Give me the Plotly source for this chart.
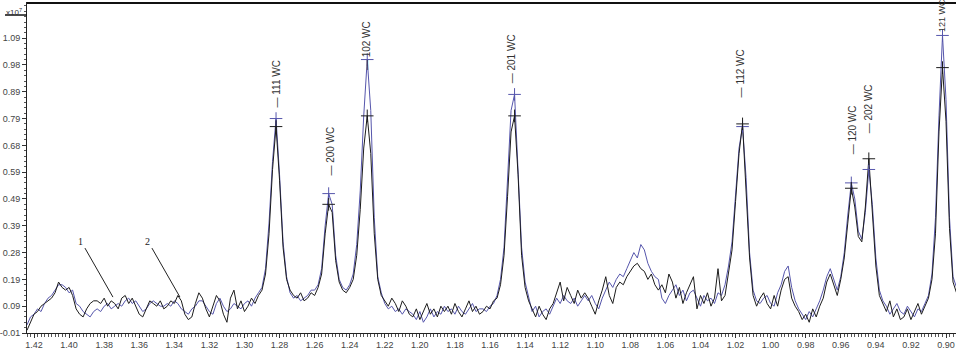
import numpy as np
import plotly.graph_objects as go

# d-spacing sampling grid (Angstrom): 1.424 -> 0.894 in 0.002 steps
d_start = 1.424
d_step = 0.002

# Pattern 1 (black), intensities x10^7
pattern_1 = [
    0.00, 0.03, 0.06, 0.07, 0.09, 0.10, 0.11, 0.12, 0.14, 0.18,
    0.16, 0.15, 0.16, 0.13, 0.08, 0.06, 0.05, 0.08, 0.10, 0.11,
    0.11, 0.10, 0.12, 0.09, 0.11, 0.10, 0.08, 0.12, 0.13, 0.10,
    0.12, 0.09, 0.06, 0.05, 0.08, 0.11, 0.10, 0.09, 0.11, 0.08,
    0.09, 0.11, 0.10, 0.13, 0.11, 0.06, 0.04, 0.05, 0.10, 0.14,
    0.12, 0.08, 0.05, 0.09, 0.13, 0.11, 0.06, 0.03, 0.12, 0.15,
    0.08, 0.11, 0.07, 0.09, 0.12, 0.10, 0.13, 0.15, 0.21, 0.36,
    0.60, 0.76, 0.56, 0.31, 0.19, 0.15, 0.13, 0.12, 0.14, 0.11,
    0.12, 0.14, 0.13, 0.16, 0.21, 0.36, 0.47, 0.44, 0.26, 0.18,
    0.15, 0.14, 0.16, 0.19, 0.28, 0.45, 0.68, 0.80, 0.66, 0.36,
    0.19, 0.13, 0.11, 0.09, 0.12, 0.10, 0.07, 0.11, 0.09, 0.06,
    0.05, 0.08, 0.04, 0.07, 0.10, 0.06, 0.08, 0.05, 0.09, 0.07,
    0.09, 0.06, 0.10, 0.07, 0.05, 0.08, 0.11, 0.07, 0.09, 0.06,
    0.07, 0.09, 0.08, 0.11, 0.12, 0.17, 0.28, 0.50, 0.74, 0.80,
    0.58, 0.28, 0.16, 0.11, 0.08, 0.05, 0.09, 0.06, 0.04, 0.08,
    0.10, 0.14, 0.18, 0.11, 0.16, 0.13, 0.10, 0.15, 0.12, 0.14,
    0.12, 0.09, 0.06, 0.11, 0.15, 0.20, 0.13, 0.10, 0.16, 0.18,
    0.17, 0.20, 0.22, 0.24, 0.25, 0.23, 0.22, 0.19, 0.21, 0.17,
    0.15, 0.17, 0.14, 0.21, 0.18, 0.12, 0.16, 0.10, 0.14, 0.17,
    0.20, 0.08, 0.13, 0.10, 0.14, 0.09, 0.12, 0.23, 0.11, 0.13,
    0.22, 0.30, 0.48, 0.66, 0.77, 0.54, 0.27, 0.13, 0.09, 0.12,
    0.14, 0.10, 0.08, 0.13, 0.09, 0.15, 0.19, 0.20, 0.12, 0.09,
    0.07, 0.04, 0.06, 0.03, 0.08, 0.05, 0.09, 0.12, 0.18, 0.21,
    0.17, 0.13, 0.19, 0.27, 0.40, 0.53, 0.46, 0.35, 0.33, 0.46,
    0.64, 0.44, 0.24, 0.13, 0.10, 0.07, 0.11, 0.05, 0.08, 0.04,
    0.05, 0.08, 0.04, 0.07, 0.10, 0.06, 0.09, 0.12, 0.19, 0.36,
    0.74, 0.98, 0.78, 0.38, 0.18, 0.14,
]

# Pattern 2 (blue), intensities x10^7
pattern_2 = [
    0.02, 0.05, 0.06, 0.08, 0.07, 0.10, 0.12, 0.13, 0.15, 0.17,
    0.17, 0.16, 0.14, 0.15, 0.10, 0.09, 0.07, 0.06, 0.05, 0.07,
    0.08, 0.07, 0.09, 0.10, 0.08, 0.09, 0.10, 0.09, 0.11, 0.12,
    0.10, 0.11, 0.09, 0.07, 0.08, 0.10, 0.11, 0.10, 0.09, 0.09,
    0.10, 0.09, 0.11, 0.10, 0.08, 0.07, 0.06, 0.08, 0.09, 0.11,
    0.11, 0.09, 0.07, 0.06, 0.10, 0.12, 0.09, 0.07, 0.08, 0.10,
    0.09, 0.08, 0.10, 0.11, 0.09, 0.12, 0.14, 0.16, 0.23, 0.40,
    0.63, 0.79, 0.58, 0.33, 0.20, 0.14, 0.12, 0.13, 0.11, 0.12,
    0.13, 0.15, 0.15, 0.17, 0.23, 0.39, 0.51, 0.47, 0.28, 0.19,
    0.16, 0.15, 0.17, 0.21, 0.32, 0.52, 0.80, 1.01, 0.82, 0.42,
    0.20, 0.14, 0.10, 0.08, 0.09, 0.07, 0.08, 0.06, 0.08, 0.07,
    0.06, 0.04, 0.07, 0.03, 0.05, 0.08, 0.05, 0.07, 0.06, 0.09,
    0.07, 0.08, 0.06, 0.09, 0.07, 0.06, 0.08, 0.10, 0.07, 0.08,
    0.08, 0.07, 0.09, 0.10, 0.13, 0.19, 0.31, 0.55, 0.82, 0.88,
    0.62, 0.31, 0.18, 0.12, 0.07, 0.09, 0.05, 0.07, 0.08, 0.06,
    0.09, 0.12, 0.10, 0.13, 0.11, 0.10, 0.12, 0.09, 0.11, 0.13,
    0.11, 0.13, 0.10, 0.08, 0.12, 0.15, 0.18, 0.16, 0.19, 0.21,
    0.20, 0.23, 0.26, 0.29, 0.27, 0.32, 0.30, 0.25, 0.22, 0.20,
    0.19, 0.12, 0.10, 0.13, 0.15, 0.17, 0.13, 0.15, 0.11, 0.14,
    0.15, 0.12, 0.09, 0.13, 0.11, 0.12, 0.10, 0.14, 0.13, 0.17,
    0.24, 0.33, 0.50, 0.68, 0.76, 0.57, 0.29, 0.15, 0.11, 0.10,
    0.12, 0.13, 0.10, 0.09, 0.14, 0.17, 0.22, 0.24, 0.16, 0.11,
    0.08, 0.06, 0.04, 0.07, 0.05, 0.08, 0.11, 0.15, 0.20, 0.23,
    0.19, 0.15, 0.20, 0.29, 0.43, 0.55, 0.49, 0.37, 0.34, 0.44,
    0.60, 0.47, 0.27, 0.15, 0.11, 0.09, 0.06, 0.08, 0.10, 0.07,
    0.06, 0.09, 0.07, 0.05, 0.08, 0.07, 0.10, 0.13, 0.21, 0.42,
    0.80, 1.10, 0.86, 0.42, 0.20, 0.16,
]

# Peak labels
peak_labels = ["111 WC", "200 WC", "102 WC", "201 WC", "112 WC", "120 WC", "202 WC", "121 WC"]
peak_d = [1.282, 1.252, 1.230, 1.146, 1.016, 0.954, 0.944, 0.902]
label_d = [1.282, 1.2512, 1.2303, 1.1476, 1.0171, 0.9536, 0.9445, 0.9026]
label_y = [0.822, 0.568, 0.964, 0.915, 0.860, 0.647, 0.729, 1.105]
label_dash = [True, True, True, True, True, True, True, False]
label_size = [10, 10, 10, 10, 10, 10, 10, 9]

# Axis ticks
y_tickvals = [-0.01, 0.09, 0.19, 0.29, 0.39, 0.49, 0.59, 0.69, 0.79, 0.89, 0.99, 1.09]
y_ticktext = ["-0.01", "0.09", "0.19", "0.28", "0.39", "0.49", "0.59", "0.68", "0.79", "0.89", "0.98", "1.09"]

# Curve number pointers: (label, d, intensity)
curve_tags = [("1", 1.375, 0.124), ("2", 1.3368, 0.124)]

n = len(pattern_1)
d = np.round(d_start - d_step * np.arange(n), 4)

BLACK = "#1c1c1c"
BLUE = "#5656ac"
SANS = "Liberation Sans, Arial, sans-serif"

fig = go.Figure()
fig.add_trace(go.Scatter(x=d, y=pattern_2, mode="lines",
                         line=dict(color=BLUE, width=1), name="2", showlegend=False))
fig.add_trace(go.Scatter(x=d, y=pattern_1, mode="lines",
                         line=dict(color=BLACK, width=1), name="1", showlegend=False))

idx = [int(round((d_start - p) / d_step)) for p in peak_d]
fig.add_trace(go.Scatter(x=[d[i] for i in idx], y=[pattern_2[i] for i in idx], mode="markers",
                         marker=dict(symbol="cross-thin", size=9, line=dict(color=BLUE, width=1)),
                         showlegend=False))
fig.add_trace(go.Scatter(x=[d[i] for i in idx], y=[pattern_1[i] for i in idx], mode="markers",
                         marker=dict(symbol="cross-thin", size=9, line=dict(color=BLACK, width=1)),
                         showlegend=False))

for lab, xd, yv, dash, fs in zip(peak_labels, label_d, label_y, label_dash, label_size):
    fig.add_annotation(x=xd, y=yv, text=("\u2014 " + lab) if dash else lab,
                       textangle=-90, showarrow=False,
                       xanchor="center", yanchor="bottom",
                       font=dict(family=SANS, size=fs, color="#333333"))

for lab, xd, yv in curve_tags:
    fig.add_annotation(x=xd, y=yv, text=lab, showarrow=True, arrowhead=0, arrowwidth=1,
                       arrowcolor="#222222", ax=-32, ay=-56, standoff=0,
                       font=dict(family="Liberation Serif, Times New Roman, serif", size=10, color="#222222"))

fig.add_annotation(xref="paper", yref="paper", x=0, y=1, xanchor="right", yanchor="top",
                   xshift=-3, yshift=-2, text="x10<sup>7</sup>", showarrow=False,
                   font=dict(family=SANS, size=8, color="#333333"))
fig.add_shape(type="line", xref="paper", yref="paper", x0=-0.0237, x1=0, y0=0.9636, y1=0.9636,
              line=dict(color="#111111", width=1.5))
fig.add_shape(type="line", xref="paper", yref="paper", x0=0, x1=1, y0=1, y1=1,
              line=dict(color="#111111", width=2))

fig.update_layout(
    width=956, height=352,
    margin=dict(l=27, r=0, t=3, b=19),
    paper_bgcolor="white", plot_bgcolor="white",
    font=dict(family=SANS, size=9, color="#444444"),
    showlegend=False,
)
fig.update_xaxes(range=[1.424, 0.8943], tickmode="linear", tick0=0.90, dtick=0.02,
                 tickformat=".2f", ticks="outside", ticklen=4, tickcolor="#333333",
                 ticklabelstandoff=-1,
                 showline=True, linecolor="#222222", linewidth=1, mirror=True,
                 showgrid=False, zeroline=False,
                 minor=dict(tickmode="linear", tick0=0.90, dtick=0.002, ticks="outside",
                            ticklen=3, tickcolor="#555555", showgrid=False),
                 tickfont=dict(size=9, color="#444444"))
fig.update_yaxes(range=[-0.01, 1.221], tickmode="array", tickvals=y_tickvals, ticktext=y_ticktext,
                 ticks="outside", ticklen=4, tickcolor="#333333",
                 showline=True, linecolor="#222222", linewidth=1,
                 showgrid=False, zeroline=False,
                 minor=dict(tickmode="linear", tick0=-0.01, dtick=0.02, ticks="outside",
                            ticklen=2, tickcolor="#555555", showgrid=False),
                 tickfont=dict(size=9, color="#444444"))

fig.write_html("out.html", config={"displayModeBar": False},
               post_script="document.body.style.margin='0';document.body.style.padding='0';")
